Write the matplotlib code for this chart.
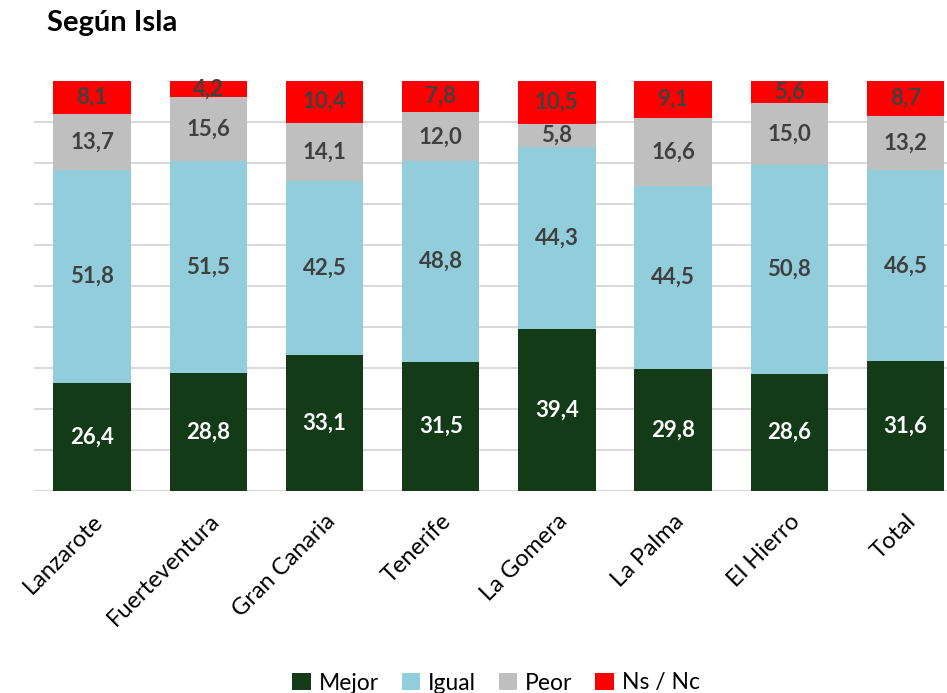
import matplotlib
matplotlib.use("Agg")
import matplotlib.pyplot as plt
import numpy as np

plt.rcParams['font.family'] = ['Lato', 'DejaVu Sans']

# datos
islas = ["Lanzarote", "Fuerteventura", "Gran Canaria", "Tenerife",
         "La Gomera", "La Palma", "El Hierro", "Total"]
mejor = [26.4, 28.8, 33.1, 31.5, 39.4, 29.8, 28.6, 31.6]
igual = [51.8, 51.5, 42.5, 48.8, 44.3, 44.5, 50.8, 46.5]
peor = [13.7, 15.6, 14.1, 12.0, 5.8, 16.6, 15.0, 13.2]
nsnc = [8.1, 4.2, 10.4, 7.8, 10.5, 9.1, 5.6, 8.7]

series = [("Mejor", mejor, "#133B18", "white"),
          ("Igual", igual, "#92CDDC", "#404040"),
          ("Peor", peor, "#BFBFBF", "#404040"),
          ("Ns / Nc", nsnc, "#FF0000", "#404040")]

W, H = 947, 693
fig = plt.figure(figsize=(W / 100, H / 100), dpi=100)
ax = fig.add_axes([34 / W, 1 - 491 / H, (W - 34) / W, (491 - 80.5) / H])

x = np.arange(len(islas))
bottom = np.zeros(len(islas))
for nombre, vals, color, tcolor in series:
    vals = np.array(vals)
    ax.bar(x, vals, 0.665, bottom=bottom, color=color, label=nombre, zorder=2)
    for xi, b, v in zip(x, bottom, vals):
        ax.text(xi, b + v / 2, f"{v:.1f}".replace(".", ","), ha="center", va="center",
                fontsize=16, fontweight="bold", color=tcolor, zorder=3)
    bottom += vals

ax.set_ylim(0, 100)
ax.set_xlim(-0.5, (W - 34) / 116.2 - 0.5)
ax.set_yticks(np.arange(0, 101, 10))
ax.yaxis.grid(True, color="#D9D9D9", linewidth=1.5, zorder=0)
ax.set_yticklabels([])
ax.tick_params(axis="y", length=0)
ax.tick_params(axis="x", length=0, pad=14)
ax.set_xticks(x)
ax.set_xticklabels(islas, rotation=45, ha="right", rotation_mode="anchor", fontsize=17)
for s in ax.spines.values():
    s.set_visible(False)

fig.text(47 / W, 1 - 23 / H, "Según Isla", fontsize=21, fontweight="bold", va="center", ha="left")

fig.legend(loc="center", bbox_to_anchor=(496 / W, 1 - 683 / H), ncol=4, frameon=False,
           fontsize=16.5, handlelength=0.8, handleheight=0.8, handletextpad=0.35,
           columnspacing=1.0)

fig.savefig("out.png", dpi=100)
